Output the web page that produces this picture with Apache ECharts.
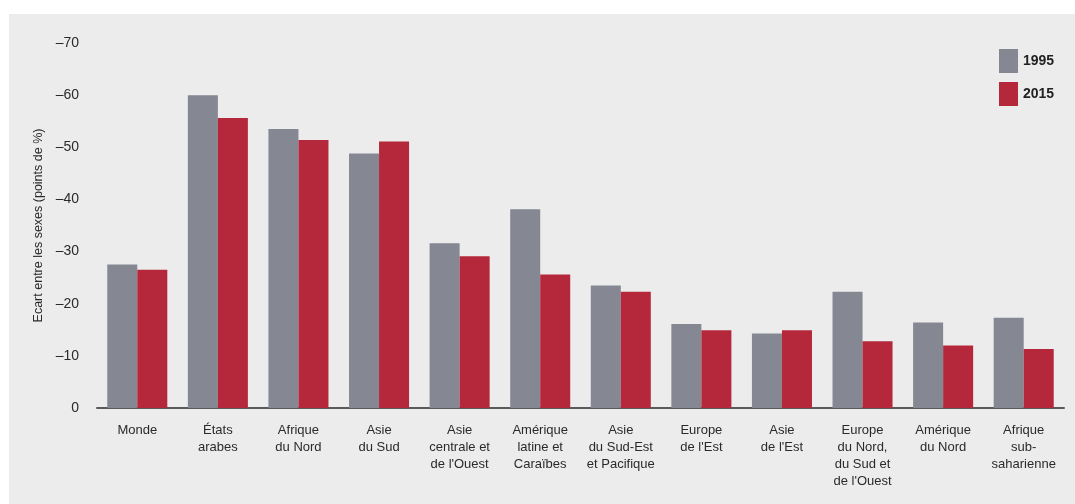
<!DOCTYPE html>
<html><head><meta charset="utf-8">
<script src="https://cdn.jsdelivr.net/npm/echarts@6/dist/echarts.min.js"></script>
<style>
html,body{margin:0;padding:0;background:#ffffff;width:1075px;height:504px;overflow:hidden;}
#panel{position:absolute;left:9px;top:14px;width:1066px;height:490px;background:#ececec;}
#chart{position:absolute;left:0;top:0;width:1075px;height:504px;}
</style></head>
<body><div id="panel"></div><div id="chart"></div>
<script>
const categories = ["Monde","États\narabes","Afrique\ndu Nord","Asie\ndu Sud","Asie\ncentrale et\nde l'Ouest","Amérique\nlatine et\nCaraïbes","Asie\ndu Sud-Est\net Pacifique","Europe\nde l'Est","Asie\nde l'Est","Europe\ndu Nord,\ndu Sud et\nde l'Ouest","Amérique\ndu Nord","Afrique\nsub-\nsaharienne"];
const values1995 = [-27.5,-60.0,-53.5,-48.8,-31.6,-38.1,-23.5,-16.1,-14.3,-22.3,-16.4,-17.3];
const values2015 = [-26.5,-55.6,-51.4,-51.1,-29.1,-25.6,-22.3,-14.9,-14.9,-12.8,-12.0,-11.3];
const seriesNames = ["1995","2015"];
const yTicks = {min:-70, max:0, interval:10};
const yTitle = "Ecart entre les sexes (points de %)";

const font = "'Liberation Sans Narrow','Arial Narrow','Liberation Sans',Arial,sans-serif";
const chart = echarts.init(document.getElementById('chart'), null, {renderer:'canvas'});
chart.setOption({
  backgroundColor:'transparent',
  animation:false,
  textStyle:{fontFamily:font},
  grid:{left:97,right:11,top:43,bottom:96,containLabel:false},
  legend:{
    orient:'vertical', left:994, top:44, itemWidth:19, itemHeight:24, itemGap:9,
    icon:'rect',
    textStyle:{fontFamily:font,fontSize:14,fontWeight:'bold',color:'#222'},
    data:seriesNames
  },
  xAxis:{
    type:'category', data:categories,
    axisLine:{show:true,lineStyle:{color:'#5a5a5a',width:2}},
    axisTick:{show:false},
    axisLabel:{interval:0,margin:14,fontFamily:font,fontSize:13,color:'#2a2a2a',lineHeight:17,align:'center'}
  },
  yAxis:{
    type:'value', inverse:true, min:yTicks.min, max:yTicks.max, interval:yTicks.interval,
    axisLine:{show:false}, axisTick:{show:false}, splitLine:{show:false},
    axisLabel:{margin:18,fontFamily:font,fontSize:14,color:'#2a2a2a',
      formatter:v=> v===0 ? '0' : String(v).replace('-','–')},
    name:yTitle, nameLocation:'middle', nameGap:52, nameRotate:90,
    nameTextStyle:{fontFamily:font,fontSize:12.5,color:'#2a2a2a'}
  },
  series:[
    {name:seriesNames[0],type:'bar',data:values1995,barGap:'0%',barCategoryGap:'25.5%',itemStyle:{color:'#858792'}},
    {name:seriesNames[1],type:'bar',data:values2015,barGap:'0%',barCategoryGap:'25.5%',itemStyle:{color:'#b5283b'}}
  ]
});
</script></body></html>
